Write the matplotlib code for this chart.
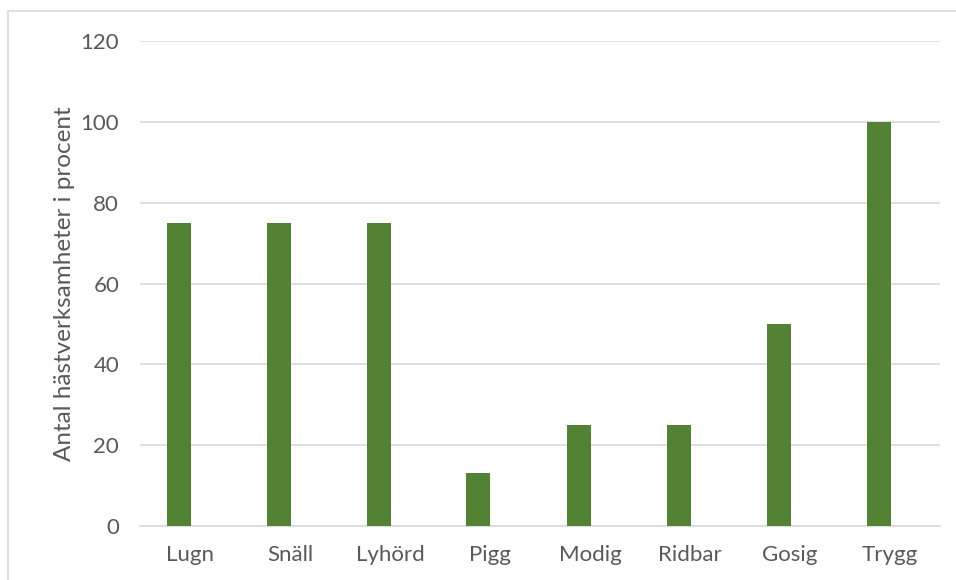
import matplotlib.pyplot as plt
from matplotlib.patches import Rectangle

# data
categories = ["Lugn", "Snäll", "Lyhörd", "Pigg", "Modig", "Ridbar", "Gosig", "Trygg"]
values = [75, 75, 75, 13, 25, 25, 50, 100]
yticks = [0, 20, 40, 60, 80, 100, 120]

plt.rcParams["font.family"] = ["Lato", "DejaVu Sans"]
TXT = "#595959"

fig = plt.figure(figsize=(9.56, 5.8), dpi=100)
ax = fig.add_axes([140 / 956, 1 - 526 / 580, 800 / 956, 485 / 580])

x = list(range(len(categories)))
ax.bar([i - 0.115 for i in x], values, width=0.24, color="#548235", zorder=3)

ax.set_xlim(-0.5, len(categories) - 0.5)
ax.set_ylim(0, 120)
ax.set_yticks(yticks)
ax.set_xticks(x)
ax.set_xticklabels(categories)
ax.grid(axis="y", color="#d9d9d9", linewidth=1.2, zorder=0)
for s in ["top", "right", "left"]:
    ax.spines[s].set_visible(False)
ax.spines["bottom"].set_color("#d9d9d9")
ax.spines["bottom"].set_linewidth(1.2)
ax.tick_params(length=0, labelsize=16, colors=TXT)
ax.tick_params(axis="y", pad=15)
ax.tick_params(axis="x", pad=14)
ax.set_ylabel("Antal hästverksamheter i procent", fontsize=17.5, color=TXT, labelpad=4)

# chart border
fig.patches.append(Rectangle((8 / 956, -0.01), 1, 1 - 11 / 580 + 0.01, transform=fig.transFigure,
                             fill=False, edgecolor="#d9d9d9", linewidth=1.2))

fig.savefig("out.png", dpi=100)
